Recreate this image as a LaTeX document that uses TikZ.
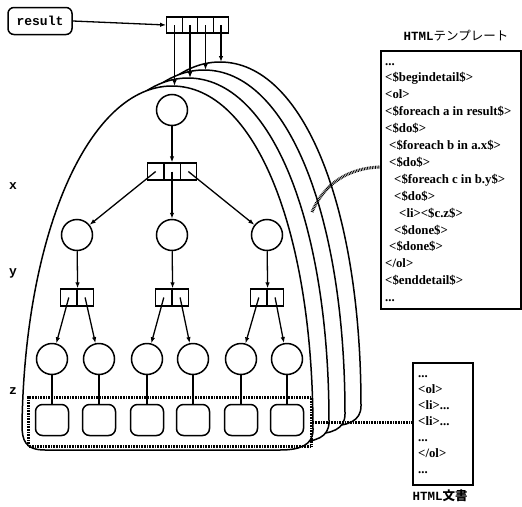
\documentclass[tikz,border=0pt]{standalone}
\usepackage{fontspec}
\setmainfont{Liberation Serif}
\newfontfamily\courb{Liberation Mono}
\newfontfamily\jpfont{Noto Sans CJK JP}
\usetikzlibrary{arrows.meta}
\newcommand\tdots{...}
\tikzset{
 circ/.style={circle,draw,line width=1.5pt,minimum size=31pt,inner sep=0pt},
 rsq/.style={draw,rounded corners=7pt,line width=1.5pt,minimum width=33pt,minimum height=31pt,inner sep=0pt},
 cell/.style={draw,line width=1.3pt,minimum width=16.3pt,minimum height=17pt,inner sep=0pt},
 arr/.style={-{Latex[length=6pt,width=4.5pt]},line width=1.3pt},
 link/.style={line width=1.3pt},
 hatch/.style={line width=3pt,dash pattern=on 0.8pt off 0.8pt},
 bullet/.style={draw,fill=white,line width=1.5pt},
 tline/.style={font=\bfseries\fontsize{12.8}{15}\selectfont,anchor=base west,inner sep=0pt},
 mono/.style={font=\courb\bfseries\fontsize{13}{14}\selectfont},
 boxline/.style={draw,line width=1.5pt,inner sep=0pt,anchor=north west}
}
\begin{document}
\begin{tikzpicture}[x=1pt,y=-1pt]
\useasboundingbox (0,0) rectangle (522,506);
% stacked bullet shapes
\foreach \k in {3,2,1,0}{
  \begin{scope}[shift={({16*\k},{-8*\k})}]
    \draw[bullet] (22,425) .. controls (25,230) and (90,86) .. (172,86)
      .. controls (255,86) and (313,230) .. (313,430)
      .. controls (313,445) and (300,450) .. (280,450) -- (45,450)
      .. controls (25,450) and (22,440) .. cycle;
  \end{scope}
}
% result and top record
\node[draw,rounded corners=6pt,line width=1.5pt,minimum width=64pt,minimum height=27pt,mono] (res) at (40,21) {result};
\foreach \i/\x in {1/174.5,2/190,3/205.5,4/221}
  \node[cell,minimum width=15.5pt,minimum height=16pt] (r\i) at (\x,25) {};
\draw[arr] (res.east) -- (r1.west);
\coordinate (a1) at (174.5,86);
\coordinate (a2) at (190,78);
\coordinate (a3) at (205.5,70);
\coordinate (a4) at (221,62);
\foreach \i in {1,2,3,4} \draw[arr] (r\i.center) -- (a\i);
% tree
\node[circ] (t) at (172,110) {};
\node[cell] (xa) at (155.7,171.5) {};
\node[cell] (xb) at (172,171.5) {};
\node[cell] (xc) at (188.3,171.5) {};
\draw[arr] (t) -- (xb.north);
\node[circ] (ya) at (77,235) {};
\node[circ] (yb) at (172,235) {};
\node[circ] (yc) at (267,235) {};
\draw[arr] (xa.center) -- (ya);
\draw[arr] (xb.center) -- (yb);
\draw[arr] (xc.center) -- (yc);
\node[cell] (ya1) at (68.8,297.5) {};
\node[cell] (ya2) at (85.1,297.5) {};
\node[cell] (yb1) at (163.8,297.5) {};
\node[cell] (yb2) at (180.1,297.5) {};
\node[cell] (yc1) at (258.8,297.5) {};
\node[cell] (yc2) at (275.1,297.5) {};
\draw[arr] (ya) -- (ya1.north east);
\draw[arr] (yb) -- (yb1.north east);
\draw[arr] (yc) -- (yc1.north east);
\foreach \i/\x in {1/52,2/99,3/147,4/193,5/241,6/287}{
  \node[circ] (z\i) at (\x,359) {};
  \node[rsq] (s\i) at (\x,420) {};
  \draw[link] (z\i) -- (s\i);
}
\draw[arr] (ya1.center) -- (z1);
\draw[arr] (ya2.center) -- (z2);
\draw[arr] (yb1.center) -- (z3);
\draw[arr] (yb2.center) -- (z4);
\draw[arr] (yc1.center) -- (z5);
\draw[arr] (yc2.center) -- (z6);
% group of results
\node[draw,hatch,minimum width=283pt,minimum height=49pt,inner sep=0pt,anchor=north west] (grp) at (27,396) {};
% level labels
\node[mono] (lx) at (13,186) {x};
\node[mono] (ly) at (13,273) {y};
\node[mono] (lz) at (13,391) {z};
% template
\node[anchor=base,font=\fontsize{12.5}{14}\selectfont] (ttl) at (456,40) {{\courb\bfseries HTML}{\jpfont テンプレート}};
\node[boxline,minimum width=140pt,minimum height=258pt] (tbox) at (380,50) {};
\foreach \t [count=\i from 0] in {{\tdots},{<\$begindetail\$>},{<ol>},{<\$foreach a in result\$>},{<\$do\$>},{\hspace*{4pt}<\$foreach b in a.x\$>},{\hspace*{4pt}<\$do\$>},{\hspace*{9pt}<\$foreach c in b.y\$>},{\hspace*{9pt}<\$do\$>},{\hspace*{14pt}<li><\$c.z\$>},{\hspace*{9pt}<\$done\$>},{\hspace*{4pt}<\$done\$>},{</ol>},{<\$enddetail\$>},{\tdots}}
  \node[tline] (tl\i) at (385,{65+16.9*\i}) {\t};
\coordinate (hs) at (312,212);
\coordinate (te) at (380,167);
\draw[hatch] (hs) .. controls (324,184) and (348,168) .. (te);
% html document
\node[boxline,minimum width=60pt,minimum height=122pt] (doc) at (412,362) {};
\foreach \t [count=\i from 0] in {{\tdots},{<ol>},{<li>\tdots},{<li>\tdots},{\tdots},{</ol>},{\tdots}}
  \node[tline] (dl\i) at (418,{377+16*\i}) {\t};
\draw[hatch] (grp.east) -- (grp.east -| doc.west);
\node[anchor=base,font=\fontsize{12.5}{14}\selectfont] (dtl) at (440,500) {{\courb\bfseries HTML}{\jpfont\bfseries 文書}};
\end{tikzpicture}
\end{document}
